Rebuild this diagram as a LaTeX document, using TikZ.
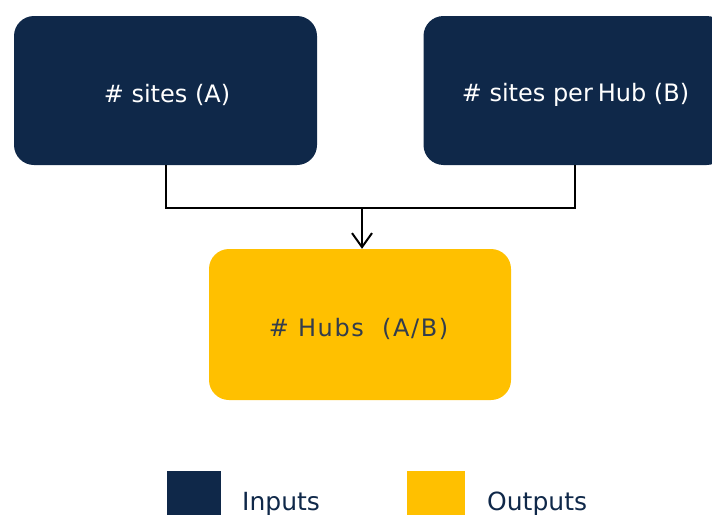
\documentclass[tikz,border=0pt]{standalone}
\usepackage{fontspec}
\setmainfont{DejaVu Sans}
\newfontfamily\hubfont[LetterSpace=6.5]{DejaVu Sans}
\usetikzlibrary{arrows.meta}
\definecolor{navy}{HTML}{0F2849}
\definecolor{gold}{HTML}{FFC000}
\definecolor{hubtext}{HTML}{333D4C}
\tikzset{
  inbox/.style={fill=navy, draw=none, rounded corners=20pt, minimum width=303pt, minimum height=149pt, inner sep=0pt},
  outbox/.style={fill=gold, draw=none, rounded corners=20pt, minimum width=302pt, minimum height=151pt, inner sep=0pt},
  inlbl/.style={text=white, font=\fontsize{24}{28}\selectfont, inner sep=0pt},
  outlbl/.style={text=hubtext, font=\hubfont\fontsize{24}{28}\selectfont, inner sep=0pt},
  conn/.style={draw=black, line width=2pt},
  legsq/.style={minimum width=54pt, minimum height=50pt, inner sep=0pt, draw=none},
  leglbl/.style={text=navy, font=\fontsize{25}{30}\selectfont, inner sep=0pt, anchor=base west}
}
\begin{document}
\begin{tikzpicture}[x=1pt,y=-1pt]
\useasboundingbox (0,0) rectangle (712,514);
\clip (0,0) rectangle (712,514);
\node[inbox] (A) at (165.5,90.5) {};
\node[inbox] (B) at (575,90.5) {};
\node[outbox] (H) at (360,324.5) {};
\node[inlbl] (Al) at (167,95) {\# sites (A)};
\node[inlbl] (Bl) at (575.5,95) {\# sites per\hspace{5pt}Hub (B)};
\node[outlbl] (Hl) at (358.5,329) {\# Hubs\ \ (A/B)};
\coordinate (J) at (362,208);
\draw[conn] (A.south) |- (J);
\draw[conn] (B.south) |- (J);
\draw[conn, -{Straight Barb[length=14pt,width=20pt,line width=2pt]}] (J) -- (J |- H.north);
\node[legsq, fill=navy, anchor=north west] (Lin) at (167,471) {};
\node[legsq, fill=gold, anchor=north west, minimum width=58pt] (Lout) at (407,471) {};
\node[leglbl] (Tin) at (242,510) {Inputs};
\node[leglbl] (Tout) at (487,510) {Outputs};
\end{tikzpicture}
\end{document}
